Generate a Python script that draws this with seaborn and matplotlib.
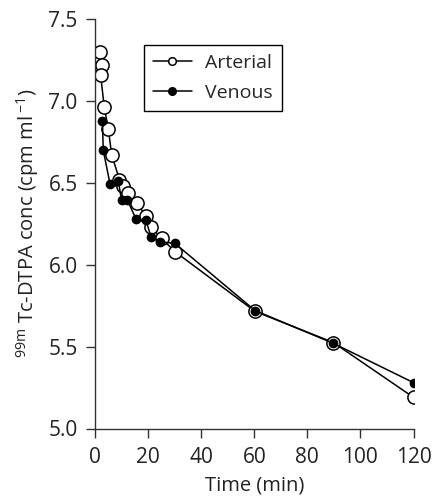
import matplotlib
matplotlib.use("Agg")
import matplotlib.pyplot as plt
import seaborn as sns

# Plasma 99mTc-DTPA concentration (log cpm/ml) over time
arterial_time = [1.9, 2.5, 2.1, 3.5, 5.0, 6.3, 9.2, 10.7, 12.3, 15.7, 19.2, 21.1, 25.1, 30.1, 60.3, 89.8, 120.0]
arterial_conc = [7.30, 7.22, 7.16, 6.96, 6.83, 6.67, 6.52, 6.48, 6.44, 6.375, 6.30, 6.23, 6.16, 6.08, 5.715, 5.525, 5.19]

venous_time = [2.8, 3.1, 5.7, 8.8, 10.0, 12.2, 15.4, 19.2, 21.1, 24.5, 30.1, 60.3, 89.8, 120.0]
venous_conc = [6.88, 6.70, 6.49, 6.51, 6.395, 6.395, 6.28, 6.27, 6.17, 6.14, 6.13, 5.72, 5.52, 5.28]

x_ticks = [0, 20, 40, 60, 80, 100, 120]
y_ticks = [5.0, 5.5, 6.0, 6.5, 7.0, 7.5]

sns.set_style("ticks")
plt.rcParams["font.family"] = ["Open Sans", "DejaVu Sans"]
plt.rcParams["mathtext.fontset"] = "custom"
plt.rcParams["mathtext.rm"] = "Open Sans"
plt.rcParams["mathtext.it"] = "Open Sans:italic"
plt.rcParams["mathtext.default"] = "regular"

fig = plt.figure(figsize=(4.33, 5.0), dpi=100)
ax = fig.add_axes([95 / 433, 1 - 428.5 / 500, 318.5 / 433, 409.5 / 500])

sns.lineplot(x=arterial_time, y=arterial_conc, sort=False, estimator=None,
             color="black", linewidth=1.1, marker="o", markersize=9.5,
             markerfacecolor="white", markeredgecolor="black",
             markeredgewidth=1.1, label="Arterial", ax=ax)
sns.lineplot(x=venous_time, y=venous_conc, sort=False, estimator=None,
             color="black", linewidth=1.1, marker="o", markersize=6.0,
             markerfacecolor="black", markeredgecolor="black",
             markeredgewidth=1.0, label="Venous", ax=ax)

ax.set_xlim(0, 120)
ax.set_ylim(5.0, 7.5)
ax.set_xticks(x_ticks)
ax.set_xticklabels([str(v) for v in x_ticks])
ax.set_yticks(y_ticks)
ax.set_yticklabels([f"{v:.1f}" for v in y_ticks])
ax.tick_params(axis="both", direction="out", length=6.5, width=1.0,
               color="#333333", labelsize=15, labelcolor="#222222")
ax.tick_params(axis="x", pad=7)
ax.tick_params(axis="y", pad=6)
for s in ("left", "bottom"):
    ax.spines[s].set_color("#333333")
    ax.spines[s].set_linewidth(1.0)
sns.despine(ax=ax)

ax.set_xlabel("Time (min)", fontsize=14.5, color="#222222", labelpad=5)
ax.set_ylabel(r"$^{99m}$ Tc-DTPA conc (cpm ml$\,^{-1}$)", fontsize=14.5,
              color="#222222", labelpad=5)

leg = ax.legend(loc="upper left", bbox_to_anchor=(0.154, 0.937),
                borderaxespad=0, frameon=True, fancybox=False, shadow=False,
                framealpha=1, edgecolor="black", fontsize=14,
                handlelength=2.0, handletextpad=0.7, labelspacing=0.65,
                borderpad=0.45)
leg.get_frame().set_linewidth(1.0)
for h in leg.legend_handles:
    h.set_markersize(5.5)

fig.savefig("out.png", dpi=100)
